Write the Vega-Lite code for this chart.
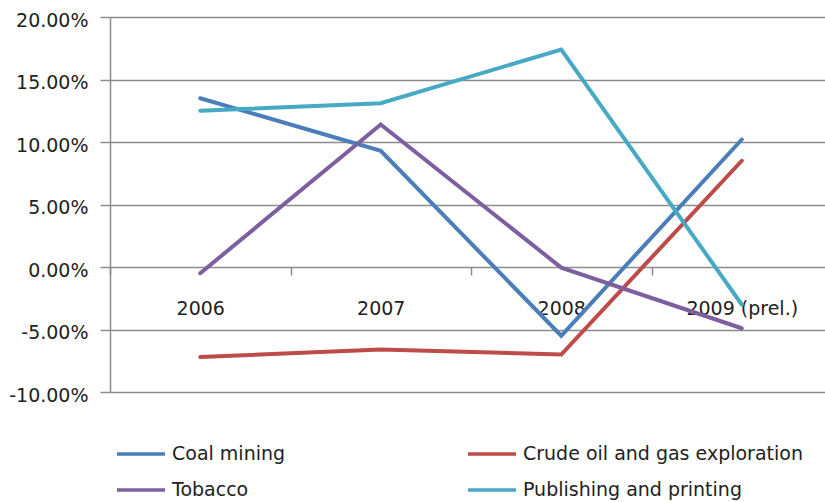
{
  "$schema": "https://vega.github.io/schema/vega-lite/v6.json",
  "width": 715,
  "height": 375,
  "autosize": {"type": "none"},
  "padding": {"left": 110, "top": 17, "right": 0, "bottom": 110},
  "background": "white",
  "config": {
    "view": {"stroke": null},
    "font": "DejaVu Sans"
  },
  "data": {
    "values": [
      {"series": "Coal mining", "year": "2006", "value": 0.135},
      {"series": "Coal mining", "year": "2007", "value": 0.093},
      {"series": "Coal mining", "year": "2008", "value": -0.055},
      {"series": "Coal mining", "year": "2009 (prel.)", "value": 0.102},
      {"series": "Crude oil and gas exploration", "year": "2006", "value": -0.072},
      {"series": "Crude oil and gas exploration", "year": "2007", "value": -0.066},
      {"series": "Crude oil and gas exploration", "year": "2008", "value": -0.070},
      {"series": "Crude oil and gas exploration", "year": "2009 (prel.)", "value": 0.085},
      {"series": "Tobacco", "year": "2006", "value": -0.005},
      {"series": "Tobacco", "year": "2007", "value": 0.114},
      {"series": "Tobacco", "year": "2008", "value": -0.0005},
      {"series": "Tobacco", "year": "2009 (prel.)", "value": -0.049},
      {"series": "Publishing and printing", "year": "2006", "value": 0.125},
      {"series": "Publishing and printing", "year": "2007", "value": 0.131},
      {"series": "Publishing and printing", "year": "2008", "value": 0.174},
      {"series": "Publishing and printing", "year": "2009 (prel.)", "value": -0.030}
    ]
  },
  "mark": {"type": "line", "strokeWidth": 4, "strokeCap": "round", "strokeJoin": "miter"},
  "encoding": {
    "x": {
      "field": "year",
      "type": "nominal",
      "sort": ["2006", "2007", "2008", "2009 (prel.)"],
      "scale": {"type": "band", "paddingInner": 0, "paddingOuter": 0, "range": [0, 722]},
      "axis": {
        "title": null,
        "offset": -125,
        "labelAngle": 0,
        "tickBand": "extent",
        "tickSize": 8,
        "tickColor": "#8c8c8c",
        "tickWidth": 1.5,
        "domain": false,
        "grid": false,
        "labelPadding": 24,
        "labelFontSize": 19,
        "labelFont": "DejaVu Sans",
        "labelColor": "#222222"
      }
    },
    "y": {
      "field": "value",
      "type": "quantitative",
      "scale": {"domain": [-0.1, 0.2], "nice": false, "zero": false},
      "axis": {
        "title": null,
        "values": [-0.1, -0.05, 0, 0.05, 0.1, 0.15, 0.2],
        "labelExpr": "replace(format(datum.value, '.2%'), '\u2212', '-')",
        "grid": true,
        "gridColor": "#8c8c8c",
        "gridWidth": 1.5,
        "domainColor": "#8c8c8c",
        "domainWidth": 1.5,
        "tickColor": "#8c8c8c",
        "tickWidth": 1.5,
        "tickSize": 10,
        "labelPadding": 12,
        "labelOffset": 3,
        "labelFontSize": 19,
        "labelFont": "DejaVu Sans",
        "labelColor": "#222222"
      }
    },
    "color": {
      "field": "series",
      "type": "nominal",
      "scale": {
        "domain": ["Coal mining", "Tobacco", "Crude oil and gas exploration", "Publishing and printing"],
        "range": ["#4A7EBB", "#7D5FA0", "#BE4B48", "#46AAC5"]
      },
      "legend": {
        "title": null,
        "orient": "none",
        "legendX": 5,
        "legendY": 411,
        "columns": 2,
        "columnPadding": 175,
        "rowPadding": -12,
        "padding": 0,
        "symbolType": "stroke",
        "symbolSize": 2304,
        "symbolStrokeWidth": 3.5,
        "labelOffset": 5,
        "labelFontSize": 19,
        "labelFont": "DejaVu Sans",
        "labelColor": "#222222",
        "labelLimit": 400
      }
    }
  }
}
